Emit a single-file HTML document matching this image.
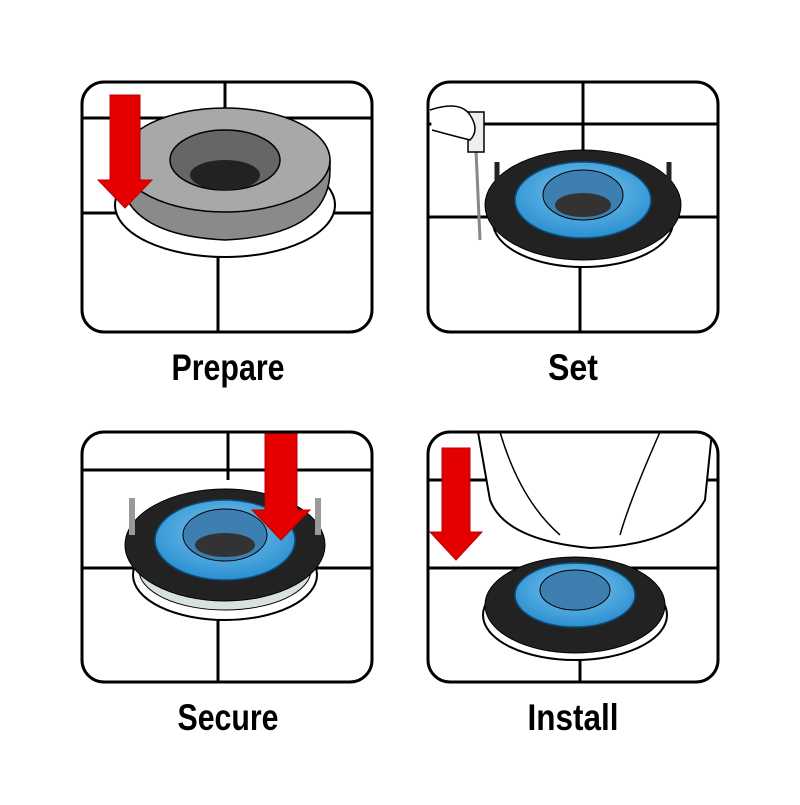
<!DOCTYPE html>
<html><head><style>
body{margin:0;background:#fff}
text{font-family:"Liberation Sans",sans-serif;font-weight:bold}
</style></head><body>
<svg width="800" height="800" viewBox="0 0 800 800" xmlns="http://www.w3.org/2000/svg">
<defs>
<clipPath id="c1"><rect x="82" y="82" width="290" height="250" rx="22"/></clipPath>
<clipPath id="c2"><rect x="428" y="82" width="290" height="250" rx="22"/></clipPath>
<clipPath id="c3"><rect x="82" y="432" width="290" height="250" rx="22"/></clipPath>
<clipPath id="c4"><rect x="428" y="432" width="290" height="250" rx="22"/></clipPath>
<radialGradient id="bl" cx="0.5" cy="0.4" r="0.6"><stop offset="0" stop-color="#7ec8f0"/><stop offset="1" stop-color="#2a8fd0"/></radialGradient>
</defs>
<g fill="none" stroke="#000" stroke-width="3">
<g clip-path="url(#c1)">
<path d="M225 82V120M82 118H372M82 213H372M218 213V332"/>
<ellipse cx="225" cy="205" rx="110" ry="52" fill="#fff" stroke-width="2"/>
<path d="M120 170 Q120 235 225 240 Q330 235 330 170 L330 160 L120 160Z" fill="#8a8a8a" stroke-width="1.5"/>
<ellipse cx="225" cy="160" rx="105" ry="52" fill="#a8a8a8" stroke-width="1.5"/>
<ellipse cx="225" cy="160" rx="55" ry="30" fill="#666" stroke-width="1.5"/>
<ellipse cx="225" cy="175" rx="35" ry="15" fill="#222" stroke="none"/>
<path d="M110 95H140V180H152L125 208L98 180H110Z" fill="#e50000" stroke="#b00" stroke-width="1"/>
</g>
<rect x="82" y="82" width="290" height="250" rx="22"/>
<g clip-path="url(#c2)">
<path d="M583 82V205M428 124H718M428 217H718M580 260V332"/>
<ellipse cx="583" cy="222" rx="90" ry="45" fill="#fff" stroke-width="2"/>
<ellipse cx="583" cy="218" rx="84" ry="40" fill="#d8e0e0" stroke-width="1"/>
<ellipse cx="583" cy="205" rx="98" ry="55" fill="#222" stroke-width="1"/>
<ellipse cx="583" cy="200" rx="68" ry="38" fill="url(#bl)" stroke="#0a4f80" stroke-width="1.5"/>
<ellipse cx="583" cy="195" rx="40" ry="25" fill="#3d7fb0" stroke-width="1"/>
<ellipse cx="583" cy="205" rx="28" ry="12" fill="#333" stroke="none"/>
<path d="M497 162V195M669 162V195" stroke="#222" stroke-width="5"/>
<path d="M476 150L480 240" stroke="#888" stroke-width="3"/>
<rect x="468" y="112" width="16" height="40" fill="#eee" stroke-width="1.5"/>
<path d="M430 110Q460 100 470 115Q480 130 470 140Q450 135 432 130" fill="#fff" stroke-width="1.5"/>
</g>
<rect x="428" y="82" width="290" height="250" rx="22"/>
<g clip-path="url(#c3)">
<path d="M228 432V480M82 470H372M82 568H372M218 600V682"/>
<ellipse cx="225" cy="575" rx="92" ry="45" fill="#fff" stroke-width="2"/>
<ellipse cx="225" cy="570" rx="86" ry="40" fill="#d8e0e0" stroke-width="1"/>
<ellipse cx="225" cy="545" rx="100" ry="56" fill="#222" stroke-width="1"/>
<ellipse cx="225" cy="540" rx="70" ry="40" fill="url(#bl)" stroke="#0a4f80" stroke-width="1.5"/>
<ellipse cx="225" cy="535" rx="42" ry="26" fill="#3d7fb0" stroke-width="1"/>
<ellipse cx="225" cy="545" rx="30" ry="12" fill="#333" stroke="none"/>
<path d="M132 498V535M318 498V535" stroke="#999" stroke-width="6"/>
<path d="M265 420H297V510H310L281 540L252 510H265Z" fill="#e50000" stroke="#b00" stroke-width="1"/>
</g>
<rect x="82" y="432" width="290" height="250" rx="22"/>
<g clip-path="url(#c4)">
<path d="M428 480H718M428 568H718M580 640V682"/>
<ellipse cx="575" cy="615" rx="92" ry="45" fill="#fff" stroke-width="2"/>
<ellipse cx="575" cy="605" rx="90" ry="48" fill="#222" stroke-width="1"/>
<ellipse cx="575" cy="595" rx="60" ry="32" fill="url(#bl)" stroke="#0a4f80" stroke-width="1.5"/>
<ellipse cx="575" cy="590" rx="35" ry="20" fill="#3d7fb0" stroke-width="1"/>
<path d="M478 432L490 500Q505 540 590 548Q680 545 705 500L712 432Z" fill="#fff" stroke-width="2"/>
<path d="M500 432Q520 500 560 535M660 432Q630 500 620 535" stroke-width="1.5"/>
<path d="M442 448H470V532H482L456 560L430 532H442Z" fill="#e50000" stroke="#b00" stroke-width="1"/>
</g>
<rect x="428" y="432" width="290" height="250" rx="22"/>
</g>
<g font-size="37" text-anchor="middle" fill="#000">
<text x="228" y="380" textLength="113" lengthAdjust="spacingAndGlyphs">Prepare</text>
<text x="573" y="380" textLength="50" lengthAdjust="spacingAndGlyphs">Set</text>
<text x="228" y="730" textLength="101" lengthAdjust="spacingAndGlyphs">Secure</text>
<text x="573" y="730" textLength="91" lengthAdjust="spacingAndGlyphs">Install</text>
</g>
</svg>
</body></html>
